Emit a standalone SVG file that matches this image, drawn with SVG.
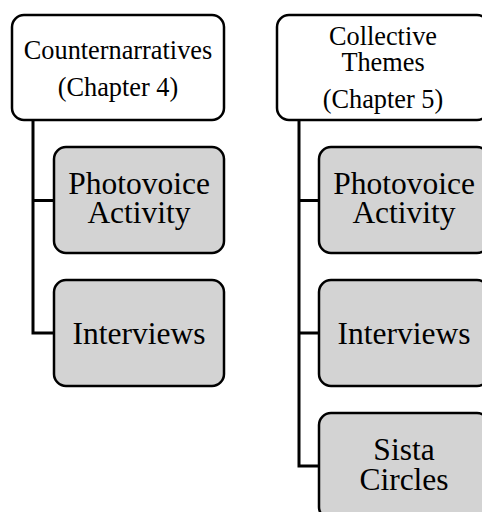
<svg xmlns="http://www.w3.org/2000/svg" width="482" height="512" viewBox="0 0 482 512">
<style>
.hdr{fill:#ffffff;stroke:#000;stroke-width:2.5}
.sub{fill:#d3d3d3;stroke:#000;stroke-width:2.5}
.ht{font-family:"Liberation Serif","Times New Roman",serif;font-size:26.3px;text-anchor:middle;fill:#000}
.st{font-family:"Liberation Serif","Times New Roman",serif;font-size:31.5px;text-anchor:middle;fill:#000}
.ln{fill:none;stroke:#000;stroke-width:3}
</style>
<rect width="482" height="512" fill="#fff"/>
<g id="connectors">
<path class="ln" d="M33 120 V333 H54 M33 200.5 H54"/>
<path class="ln" d="M299 120 V466 H319 M299 200.5 H319 M299 333 H319"/>
</g>
<g id="counternarratives">
<rect class="hdr" x="12" y="15" width="212" height="105" rx="12"/>
<text class="ht"><tspan x="118" y="59">Counternarratives</tspan><tspan x="118" y="96">(Chapter 4)</tspan></text>
</g>
<g id="photovoice1">
<rect class="sub" x="54" y="147" width="170" height="106" rx="12"/>
<text class="st"><tspan x="139" y="194">Photovoice</tspan><tspan x="139" y="223">Activity</tspan></text>
</g>
<g id="interviews1">
<rect class="sub" x="54" y="280" width="170" height="106" rx="12"/>
<text class="st" x="139" y="344">Interviews</text>
</g>
<g id="collective">
<rect class="hdr" x="277" y="15" width="212" height="105" rx="12"/>
<text class="ht"><tspan x="383" y="45">Collective</tspan><tspan x="383" y="71">Themes</tspan><tspan x="383" y="108">(Chapter 5)</tspan></text>
</g>
<g id="photovoice2">
<rect class="sub" x="319" y="147" width="170" height="106" rx="12"/>
<text class="st"><tspan x="404" y="194">Photovoice</tspan><tspan x="404" y="223">Activity</tspan></text>
</g>
<g id="interviews2">
<rect class="sub" x="319" y="280" width="170" height="106" rx="12"/>
<text class="st" x="404" y="344">Interviews</text>
</g>
<g id="sista">
<rect class="sub" x="319" y="413" width="170" height="106" rx="12"/>
<text class="st"><tspan x="404" y="460">Sista</tspan><tspan x="404" y="490">Circles</tspan></text>
</g>
</svg>
